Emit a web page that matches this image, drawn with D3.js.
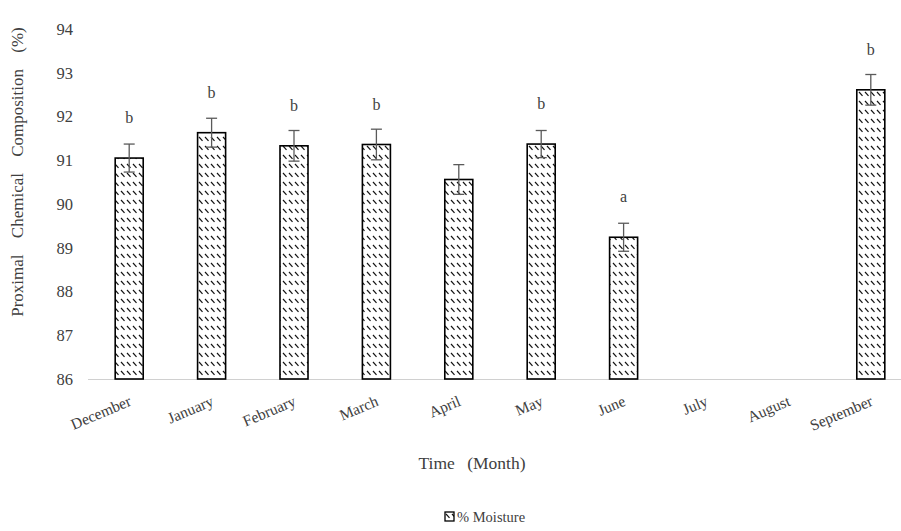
<!DOCTYPE html>
<html>
<head>
<meta charset="utf-8">
<script src="https://cdn.jsdelivr.net/npm/d3@7"></script>
<style>
  html, body { margin: 0; padding: 0; background: #fff; }
  svg { display: block; }
  text { font-family: "Liberation Serif", "Times New Roman", serif; }
</style>
</head>
<body>
<svg id="chart" width="901" height="531"></svg>
<script>
// Monthly moisture content, mean ± SD, with significance letters
const months = ["December", "January", "February", "March", "April", "May", "June", "July", "August", "September"];
const moisture = [91.05, 91.63, 91.33, 91.36, 90.56, 91.37, 89.24, null, null, 92.61];
const moistureSD = [0.32, 0.33, 0.35, 0.35, 0.34, 0.31, 0.32, null, null, 0.35];
const letters = ["b", "b", "b", "b", "", "b", "a", "", "", "b"];
const yTicks = [86, 87, 88, 89, 90, 91, 92, 93, 94];

const svg = d3.select("#chart");
const W = 901;

const x = d3.scaleBand().domain(months).range([88, 912]).paddingInner(0).paddingOuter(0);
const y = d3.scaleLinear().domain([86, 94]).range([379, 29]);
const barW = x.bandwidth() * 0.34;
const cx = m => x(m) + x.bandwidth() / 2;

// hatch: dashed downward diagonal
const defs = svg.append("defs");
const pat = defs.append("pattern")
  .attr("id", "hatch")
  .attr("patternUnits", "userSpaceOnUse")
  .attr("width", 6).attr("height", 9);
pat.append("rect").attr("width", 6).attr("height", 9).attr("fill", "#fff");
pat.append("line")
  .attr("x1", 1).attr("y1", 2).attr("x2", 4.5).attr("y2", 5.8)
  .attr("stroke", "#111").attr("stroke-width", 1.15);

// y axis (labels only)
const yAxis = svg.append("g")
  .attr("transform", "translate(88,0)")
  .call(d3.axisLeft(y).tickValues(yTicks).tickSize(0).tickPadding(15).tickFormat(d3.format("d")));
yAxis.select(".domain").remove();
yAxis.selectAll("text")
  .attr("fill", "#404040")
  .style("font-size", "16.5px");

// category axis line
svg.append("line")
  .attr("x1", 88).attr("x2", W).attr("y1", y(86) + 0.5).attr("y2", y(86) + 0.5)
  .attr("stroke", "#d0d0d0").attr("stroke-width", 1);

const data = months.map((m, i) => ({ m, v: moisture[i], sd: moistureSD[i], l: letters[i] }))
  .filter(d => d.v != null);

// bars
svg.append("g").selectAll("rect")
  .data(data).join("rect")
  .attr("x", d => cx(d.m) - barW / 2)
  .attr("y", d => y(d.v))
  .attr("width", barW)
  .attr("height", d => y(86) - y(d.v))
  .attr("fill", "url(#hatch)")
  .attr("stroke", "#000")
  .attr("stroke-width", 1.6);

// error bars
const eb = svg.append("g").attr("stroke", "#5a5a5a").attr("stroke-width", 1.3);
data.forEach(d => {
  const c = cx(d.m);
  eb.append("line").attr("x1", c).attr("x2", c).attr("y1", y(d.v - d.sd)).attr("y2", y(d.v + d.sd));
  eb.append("line").attr("x1", c - 5.5).attr("x2", c + 5.5).attr("y1", y(d.v + d.sd)).attr("y2", y(d.v + d.sd));
  eb.append("line").attr("x1", c - 5.5).attr("x2", c + 5.5).attr("y1", y(d.v - d.sd)).attr("y2", y(d.v - d.sd));
});

// significance letters
svg.append("g").selectAll("text")
  .data(data.filter(d => d.l)).join("text")
  .attr("x", d => cx(d.m))
  .attr("y", d => y(d.v) - 35)
  .attr("text-anchor", "middle")
  .attr("fill", "#404040")
  .style("font-size", "16px")
  .text(d => d.l);

// month labels, rotated
svg.append("g").selectAll("text")
  .data(months).join("text")
  .attr("transform", m => `translate(${cx(m) + 3},${y(86) + 26}) rotate(-23)`)
  .attr("text-anchor", "end")
  .attr("fill", "#404040")
  .style("font-size", "15.5px")
  .text(m => m);

// axis titles
svg.append("text")
  .attr("transform", "translate(23,172) rotate(-90)")
  .attr("text-anchor", "middle")
  .attr("fill", "#404040")
  .style("font-size", "17px")
  .style("word-spacing", "12px")
  .text("Proximal Chemical Composition (%)");

svg.append("text")
  .attr("x", 472).attr("y", 469)
  .attr("text-anchor", "middle")
  .attr("fill", "#404040")
  .style("font-size", "17.5px")
  .style("word-spacing", "8px")
  .text("Time (Month)");

// legend
const lg = svg.append("g").attr("transform", "translate(445,512)");
lg.append("rect").attr("width", 9).attr("height", 9)
  .attr("fill", "url(#hatch)").attr("stroke", "#000").attr("stroke-width", 1.3);
lg.append("text").attr("x", 12).attr("y", 9.5)
  .attr("fill", "#404040").style("font-size", "14.5px")
  .text("% Moisture");
</script>
</body>
</html>
